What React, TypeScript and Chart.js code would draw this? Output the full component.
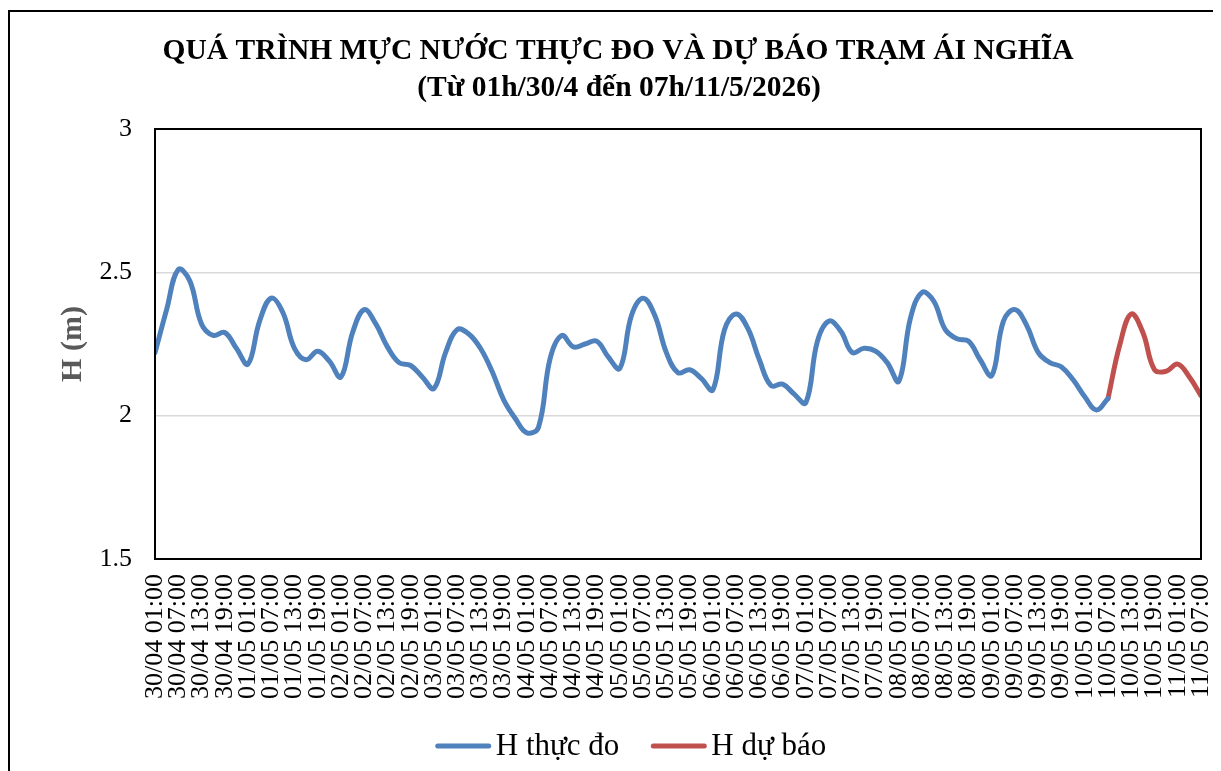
import React, { useEffect, useRef } from "react";
import { Chart, registerables } from "chart.js";

Chart.register(...registerables);

// ---- Data ----
const titleLine1 = "QUÁ TRÌNH MỰC NƯỚC THỰC ĐO VÀ DỰ BÁO TRẠM ÁI NGHĨA";
const titleLine2 = "(Từ 01h/30/4 đến 07h/11/5/2026)";
const yAxisTitle = "H (m)";
const seriesNames = ["H thực đo", "H dự báo"];

// x-axis tick labels, every 6 hours from 30/04 01:00
const tickLabels = [
  "30/04 01:00", "30/04 07:00", "30/04 13:00", "30/04 19:00",
  "01/05 01:00", "01/05 07:00", "01/05 13:00", "01/05 19:00",
  "02/05 01:00", "02/05 07:00", "02/05 13:00", "02/05 19:00",
  "03/05 01:00", "03/05 07:00", "03/05 13:00", "03/05 19:00",
  "04/05 01:00", "04/05 07:00", "04/05 13:00", "04/05 19:00",
  "05/05 01:00", "05/05 07:00", "05/05 13:00", "05/05 19:00",
  "06/05 01:00", "06/05 07:00", "06/05 13:00", "06/05 19:00",
  "07/05 01:00", "07/05 07:00", "07/05 13:00", "07/05 19:00",
  "08/05 01:00", "08/05 07:00", "08/05 13:00", "08/05 19:00",
  "09/05 01:00", "09/05 07:00", "09/05 13:00", "09/05 19:00",
  "10/05 01:00", "10/05 07:00", "10/05 13:00", "10/05 19:00",
  "11/05 01:00", "11/05 07:00",
];

const HOURS_PER_TICK = 6;
const HOURS_PER_VALUE = 3;
const FORECAST_START_HOUR = 246; // 10/05 07:00

// Measured water level (m), every 3 hours from 30/04 01:00
const measuredValues = [
  2.22, 2.37, 2.51, 2.47, 2.32, 2.28, 2.29, 2.235,
  2.18, 2.33, 2.41, 2.36, 2.235, 2.195, 2.225, 2.19,
  2.135, 2.29, 2.37, 2.32, 2.24, 2.185, 2.175, 2.135,
  2.095, 2.22, 2.30, 2.285, 2.235, 2.155, 2.055, 1.99,
  1.94, 1.96, 2.20, 2.28, 2.24, 2.25, 2.26, 2.205,
  2.165, 2.35, 2.41, 2.35, 2.22, 2.15, 2.16, 2.13,
  2.09, 2.30, 2.355, 2.305, 2.195, 2.105, 2.11, 2.075,
  2.045, 2.26, 2.33, 2.295, 2.22, 2.235, 2.225, 2.185,
  2.12, 2.34, 2.43, 2.40, 2.30, 2.268, 2.26, 2.195,
  2.14, 2.33, 2.37, 2.315, 2.22, 2.185, 2.17, 2.125,
  2.066, 2.02, 2.06,
];

// Forecast water level (m), every 3 hours from 10/05 07:00
const forecastValues = [2.06, 2.245, 2.355, 2.29, 2.16, 2.155, 2.18, 2.135, 2.07];

const seriesColors = ["#4F81BD", "#C0504D"];

const SERIF = '"Liberation Serif", "Times New Roman", serif';

export default function App() {
  const ref = useRef<HTMLCanvasElement | null>(null);

  useEffect(() => {
    document.body.style.overflow = "hidden";
    const canvas = ref.current;
    if (!canvas) return;

    const outerBorder = {
      id: "outerBorder",
      beforeDraw(chart: any) {
        const { ctx, width, height } = chart;
        ctx.save();
        ctx.strokeStyle = "#000";
        ctx.lineWidth = 2;
        ctx.beginPath();
        ctx.moveTo(1, height + 5);
        ctx.lineTo(1, 3);
        ctx.lineTo(width + 5, 3);
        ctx.stroke();
        ctx.restore();
      },
    };

    const plotBorder = {
      id: "plotBorder",
      afterDatasetsDraw(chart: any) {
        const { ctx, chartArea } = chart;
        ctx.save();
        ctx.strokeStyle = "#000";
        ctx.lineWidth = 2;
        ctx.strokeRect(
          chartArea.left,
          chartArea.top,
          chartArea.right - chartArea.left,
          chartArea.bottom - chartArea.top
        );
        ctx.restore();
      },
    };

    const titlePlugin = {
      id: "titleText",
      afterDraw(chart: any) {
        const { ctx } = chart;
        ctx.save();
        ctx.fillStyle = "#000";
        ctx.textAlign = "center";
        ctx.textBaseline = "middle";
        ctx.font = `bold 29.5px ${SERIF}`;
        ctx.fillText(titleLine1, 610, 43);
        ctx.fillText(titleLine2, 611, 80);
        ctx.restore();
      },
    };

    const legendPlugin = {
      id: "legendLines",
      afterDraw(chart: any) {
        const { ctx } = chart;
        ctx.save();
        ctx.font = `31px ${SERIF}`;
        const lineLen = 55;
        const gap = 5;
        const itemGap = 32;
        const items = chart.data.datasets.map((ds: any) => ({
          label: ds.label as string,
          color: ds.borderColor as string,
        }));
        const widths = items.map((it: any) => lineLen + gap + ctx.measureText(it.label).width);
        const total = widths.reduce((a: number, b: number) => a + b, 0) + itemGap * (items.length - 1);
        let x = 623 - total / 2;
        const y = 738;
        items.forEach((it: any, i: number) => {
          ctx.strokeStyle = it.color;
          ctx.lineWidth = 5;
          ctx.lineCap = "round";
          ctx.beginPath();
          ctx.moveTo(x + 2, y);
          ctx.lineTo(x + lineLen - 2, y);
          ctx.stroke();
          ctx.fillStyle = "#000";
          ctx.textAlign = "left";
          ctx.textBaseline = "middle";
          ctx.fillText(it.label, x + lineLen + gap, y + 1);
          x += widths[i] + itemGap;
        });
        ctx.restore();
      },
    };

    const measuredData = measuredValues.map((v, i) => ({ x: i * HOURS_PER_VALUE, y: v }));
    const forecastData = forecastValues.map((v, i) => ({
      x: FORECAST_START_HOUR + i * HOURS_PER_VALUE,
      y: v,
    }));
    const maxHour = (tickLabels.length - 1) * HOURS_PER_TICK;

    const chart = new Chart(canvas, {
      type: "line",
      data: {
        datasets: [
          {
            label: seriesNames[0],
            data: measuredData,
            borderColor: seriesColors[0],
            backgroundColor: seriesColors[0],
            borderWidth: 5,
            pointRadius: 0,
            tension: 0.4,
            borderCapStyle: "round",
            borderJoinStyle: "round",
          },
          {
            label: seriesNames[1],
            data: forecastData,
            borderColor: seriesColors[1],
            backgroundColor: seriesColors[1],
            borderWidth: 5,
            pointRadius: 0,
            tension: 0.4,
            borderCapStyle: "round",
            borderJoinStyle: "round",
          },
        ],
      },
      options: {
        responsive: false,
        animation: false,
        devicePixelRatio: 1,
        layout: { padding: { top: 121, right: 20, bottom: 60, left: 0 } },
        plugins: {
          legend: { display: false },
          title: { display: false },
          tooltip: { enabled: false },
        },
        scales: {
          x: {
            type: "linear",
            min: 0,
            max: maxHour,
            grid: { display: false, drawTicks: false },
            border: { display: false },
            afterFit(scale: any) {
              scale.height = 152;
              scale.paddingRight = 0;
              scale.paddingLeft = 0;
            },
            ticks: {
              stepSize: HOURS_PER_TICK,
              autoSkip: false,
              minRotation: 90,
              maxRotation: 90,
              padding: 15,
              color: "#000",
              font: { family: SERIF, size: 26 },
              callback: (value: any) => {
                const idx = Math.round(Number(value) / HOURS_PER_TICK);
                return tickLabels[idx] ?? "";
              },
            },
          },
          y: {
            min: 1.5,
            max: 3,
            grid: { color: "#D9D9D9", lineWidth: 1.5, drawTicks: false },
            border: { display: false },
            afterFit(scale: any) {
              scale.width = 147;
              scale.paddingTop = 0;
              scale.paddingBottom = 0;
            },
            ticks: {
              stepSize: 0.5,
              padding: 23,
              color: "#000",
              font: { family: SERIF, size: 26 },
              callback: (value: any) => String(Number(value)),
            },
            title: {
              display: true,
              text: yAxisTitle,
              color: "#595959",
              font: { family: SERIF, size: 30, weight: "bold" },
              padding: { top: 47, bottom: 0 },
            },
          },
        },
      },
      plugins: [outerBorder, plotBorder, titlePlugin, legendPlugin],
    } as any);

    return () => chart.destroy();
  }, []);

  return (
    <canvas
      ref={ref}
      width={1213}
      height={763}
      style={{ display: "block", width: "1213px", height: "763px" }}
    />
  );
}
